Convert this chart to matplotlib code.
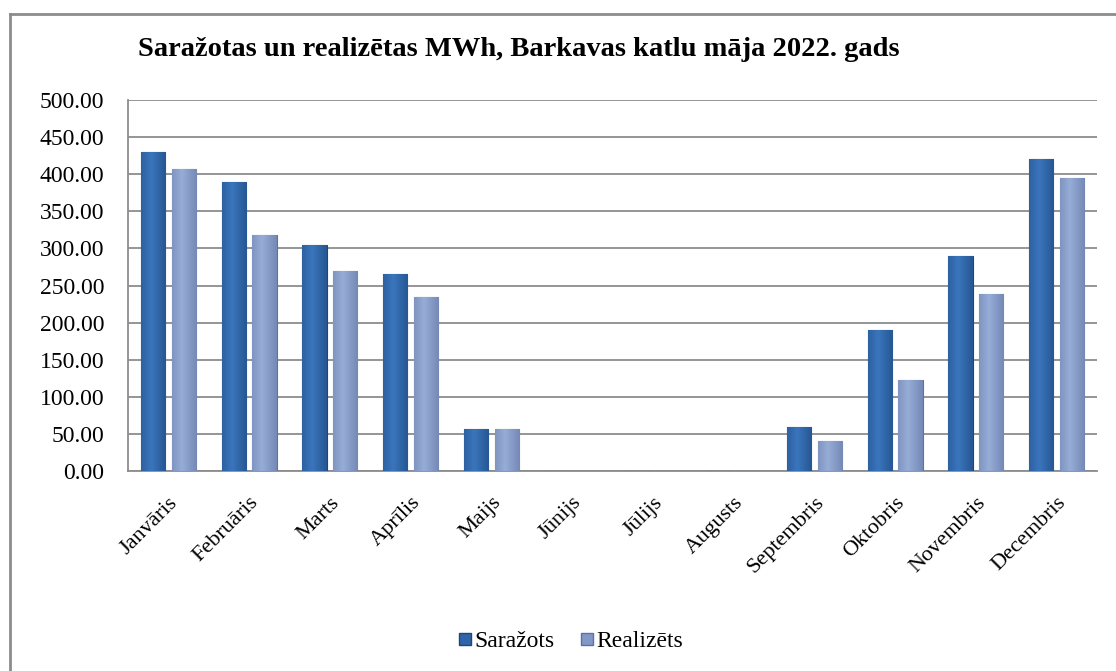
import numpy as np
import matplotlib
matplotlib.use('Agg')
import matplotlib.pyplot as plt
from matplotlib.colors import LinearSegmentedColormap
from matplotlib.lines import Line2D

months = ['Janvāris', 'Februāris', 'Marts', 'Aprīlis', 'Maijs', 'Jūnijs', 'Jūlijs',
          'Augusts', 'Septembris', 'Oktobris', 'Novembris', 'Decembris']
sarazots = [430, 390, 305, 265, 57, 0, 0, 0, 59, 190, 290, 421]
realizets = [407, 318, 270, 234, 56, 0, 0, 0, 40, 122, 238, 395]
yticks = np.arange(0, 501, 50)

plt.rcParams['font.family'] = ['Liberation Serif', 'DejaVu Serif']

fig = plt.figure(figsize=(11.16, 6.71), dpi=100)
W, H = 1116, 671
ax = fig.add_axes([128 / W, (H - 471) / H, 969 / W, 371 / H])

x = np.arange(len(months))
bw = 0.30
off = 0.19
b1 = ax.bar(x - off, sarazots, bw, color='#2F64A6', edgecolor='#1F4677', linewidth=0.8, zorder=3, label='Saražots')
b2 = ax.bar(x + off, realizets, bw, color='#8199C6', edgecolor='#5F7299', linewidth=0.8, zorder=3, label='Realizēts')

# soft horizontal gradient inside each bar
grad = np.linspace(0, 1, 64)
grad = 1 - np.abs(grad - 0.4) * 1.6
grad = grad.reshape(1, -1)
cm1 = LinearSegmentedColormap.from_list('c1', ['#22508A', '#3A75BC'])
cm2 = LinearSegmentedColormap.from_list('c2', ['#6C80AC', '#96ADD8'])
for bars, cm in ((b1, cm1), (b2, cm2)):
    for b in bars:
        h = b.get_height()
        if h <= 0:
            continue
        x0 = b.get_x()
        im = ax.imshow(grad, cmap=cm, extent=(x0, x0 + b.get_width(), 0, h),
                       aspect='auto', zorder=3.5, vmin=-0.2, vmax=1)
        im.set_clip_path(b)

ax.set_xlim(-0.5, 11.5)
ax.set_ylim(0, 500)
ax.set_yticks(yticks)
ax.set_yticklabels([f'{v:.2f}' for v in yticks], fontsize=17)
ax.set_xticks(x)
ax.set_xticklabels(months, rotation=45, ha='right', rotation_mode='anchor', fontsize=16)
ax.tick_params(axis='y', length=0, pad=17)
ax.tick_params(axis='x', length=0, pad=16)
ax.yaxis.grid(True, color='#8C8C8C', linewidth=1.3, zorder=0)
ax.set_axisbelow(True)
for s in ['top', 'right']:
    ax.spines[s].set_visible(False)
for s in ['left', 'bottom']:
    ax.spines[s].set_color('#8C8C8C')
    ax.spines[s].set_linewidth(1.3)

fig.text(519 / W, 1 - 50 / H, 'Saražotas un realizētas MWh, Barkavas katlu māja 2022. gads',
         ha='center', va='center', fontsize=20.5, fontweight='bold')

handles = [Line2D([], [], marker='s', linestyle='none', markersize=9,
                  markerfacecolor='#2F64A6', markeredgecolor='#1F4677'),
           Line2D([], [], marker='s', linestyle='none', markersize=9,
                  markerfacecolor='#8199C6', markeredgecolor='#5F7299')]
fig.legend(handles, ['Saražots', 'Realizēts'], loc='center', bbox_to_anchor=(570 / W, 1 - 641 / H),
           ncol=2, frameon=False, fontsize=17, handletextpad=0.05, columnspacing=1.0,
           handlelength=0.7)

# outer frame of the chart area
fig.add_artist(Line2D([10 / W, 10 / W], [0, 1 - 14 / H], color='#8C8C8C', linewidth=2))
fig.add_artist(Line2D([10 / W, 1], [1 - 14 / H, 1 - 14 / H], color='#8C8C8C', linewidth=2))

fig.savefig('out.png', dpi=100)
